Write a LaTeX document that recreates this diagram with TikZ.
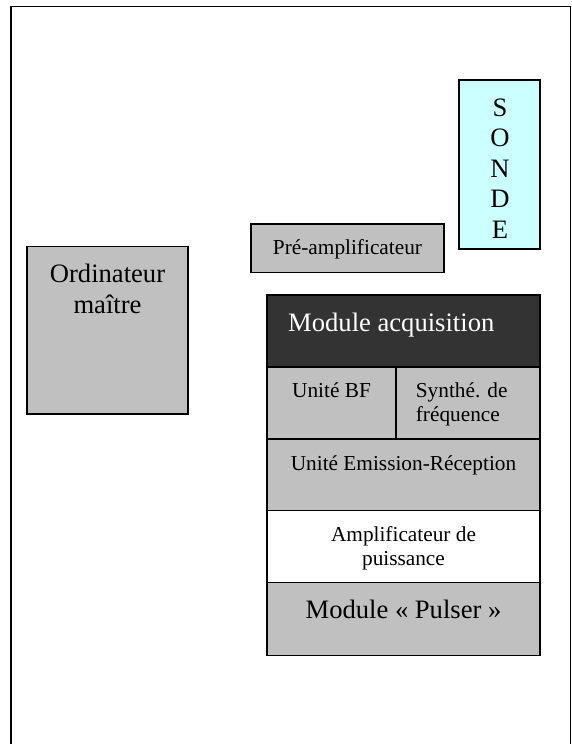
\documentclass[tikz,border=0pt]{standalone}
\usepackage{fontspec}
\setmainfont{Liberation Serif}
\usepackage{xcolor}
\definecolor{boxgray}{HTML}{C0C0C0}
\definecolor{probecyan}{HTML}{CCFFFF}
\definecolor{headdark}{HTML}{333333}
\usetikzlibrary{positioning}

\begin{document}
\begin{tikzpicture}[
  x=1pt, y=-1pt,
  block/.style={
    draw=black, line width=1.4pt, fill=boxgray,
    inner sep=0pt, outer sep=0pt
  },
  bigtxt/.style={font=\fontsize{26.6}{30.4}\selectfont, inner sep=0pt, align=center},
  smalltxt/.style={font=\fontsize{21.3}{24}\selectfont, inner sep=0pt, align=center}
]
  \useasboundingbox (0,0) rectangle (571,744);
  \begin{scope}
    \clip (0,0) rectangle (571,744);
    \draw[line width=1.8pt] (11,780) |- (570.5,6.5) -- (570.5,780);
  \end{scope}

  \node[block, fill=probecyan, minimum width=81, minimum height=169] (sonde) at (499.5,164.5) {};
  \node[block, minimum width=193, minimum height=48.5] (preamp) at (347.5,248.3) {};
  \node[block, minimum width=161, minimum height=167.3] (ordi) at (107.5,330.4) {};

  \node[block, fill=headdark, minimum width=273, minimum height=72] (acq) at (403.5,331) {};
  \node[block, minimum width=129, minimum height=72, anchor=north west] (bf) at (acq.south west) {};
  \node[block, minimum width=144, minimum height=72, anchor=north west] (synth) at (bf.north east) {};
  \node[block, minimum width=273, minimum height=71.5, anchor=north west] (emrec) at (bf.south west) {};
  \node[block, fill=white, minimum width=273, minimum height=72.2, anchor=north west] (ampli) at (emrec.south west) {};
  \node[block, minimum width=273, minimum height=73, anchor=north west] (pulser) at (ampli.south west) {};

  \node[bigtxt, anchor=base] (sonde-t) at (500,238) {S\\O\\N\\D\\E};
  \node[smalltxt, anchor=base] (preamp-t) at (347.5,254) {Pré-amplificateur};
  \node[bigtxt, anchor=base] (ordi-t) at (107.5,313.3) {Ordinateur\\maître};
  \node[bigtxt, text=white, anchor=base west] (acq-t) at (288,331) {Module acquisition};
  \node[smalltxt, anchor=base] (bf-t) at (331.5,397.3) {Unité BF};
  \node[smalltxt, align=left, anchor=base west] (synth-t) at (415.7,421.7) {Synthé. de\\fréquence};
  \node[smalltxt, anchor=base] (emrec-t) at (403.5,470) {Unité Emission-Réception};
  \node[smalltxt, font=\fontsize{21.3}{23.4}\selectfont, anchor=base] (ampli-t) at (403.5,565) {Amplificateur de\\puissance};
  \node[bigtxt, anchor=base] (pulser-t) at (403.5,618.3) {Module «~Pulser~»};
\end{tikzpicture}
\end{document}
